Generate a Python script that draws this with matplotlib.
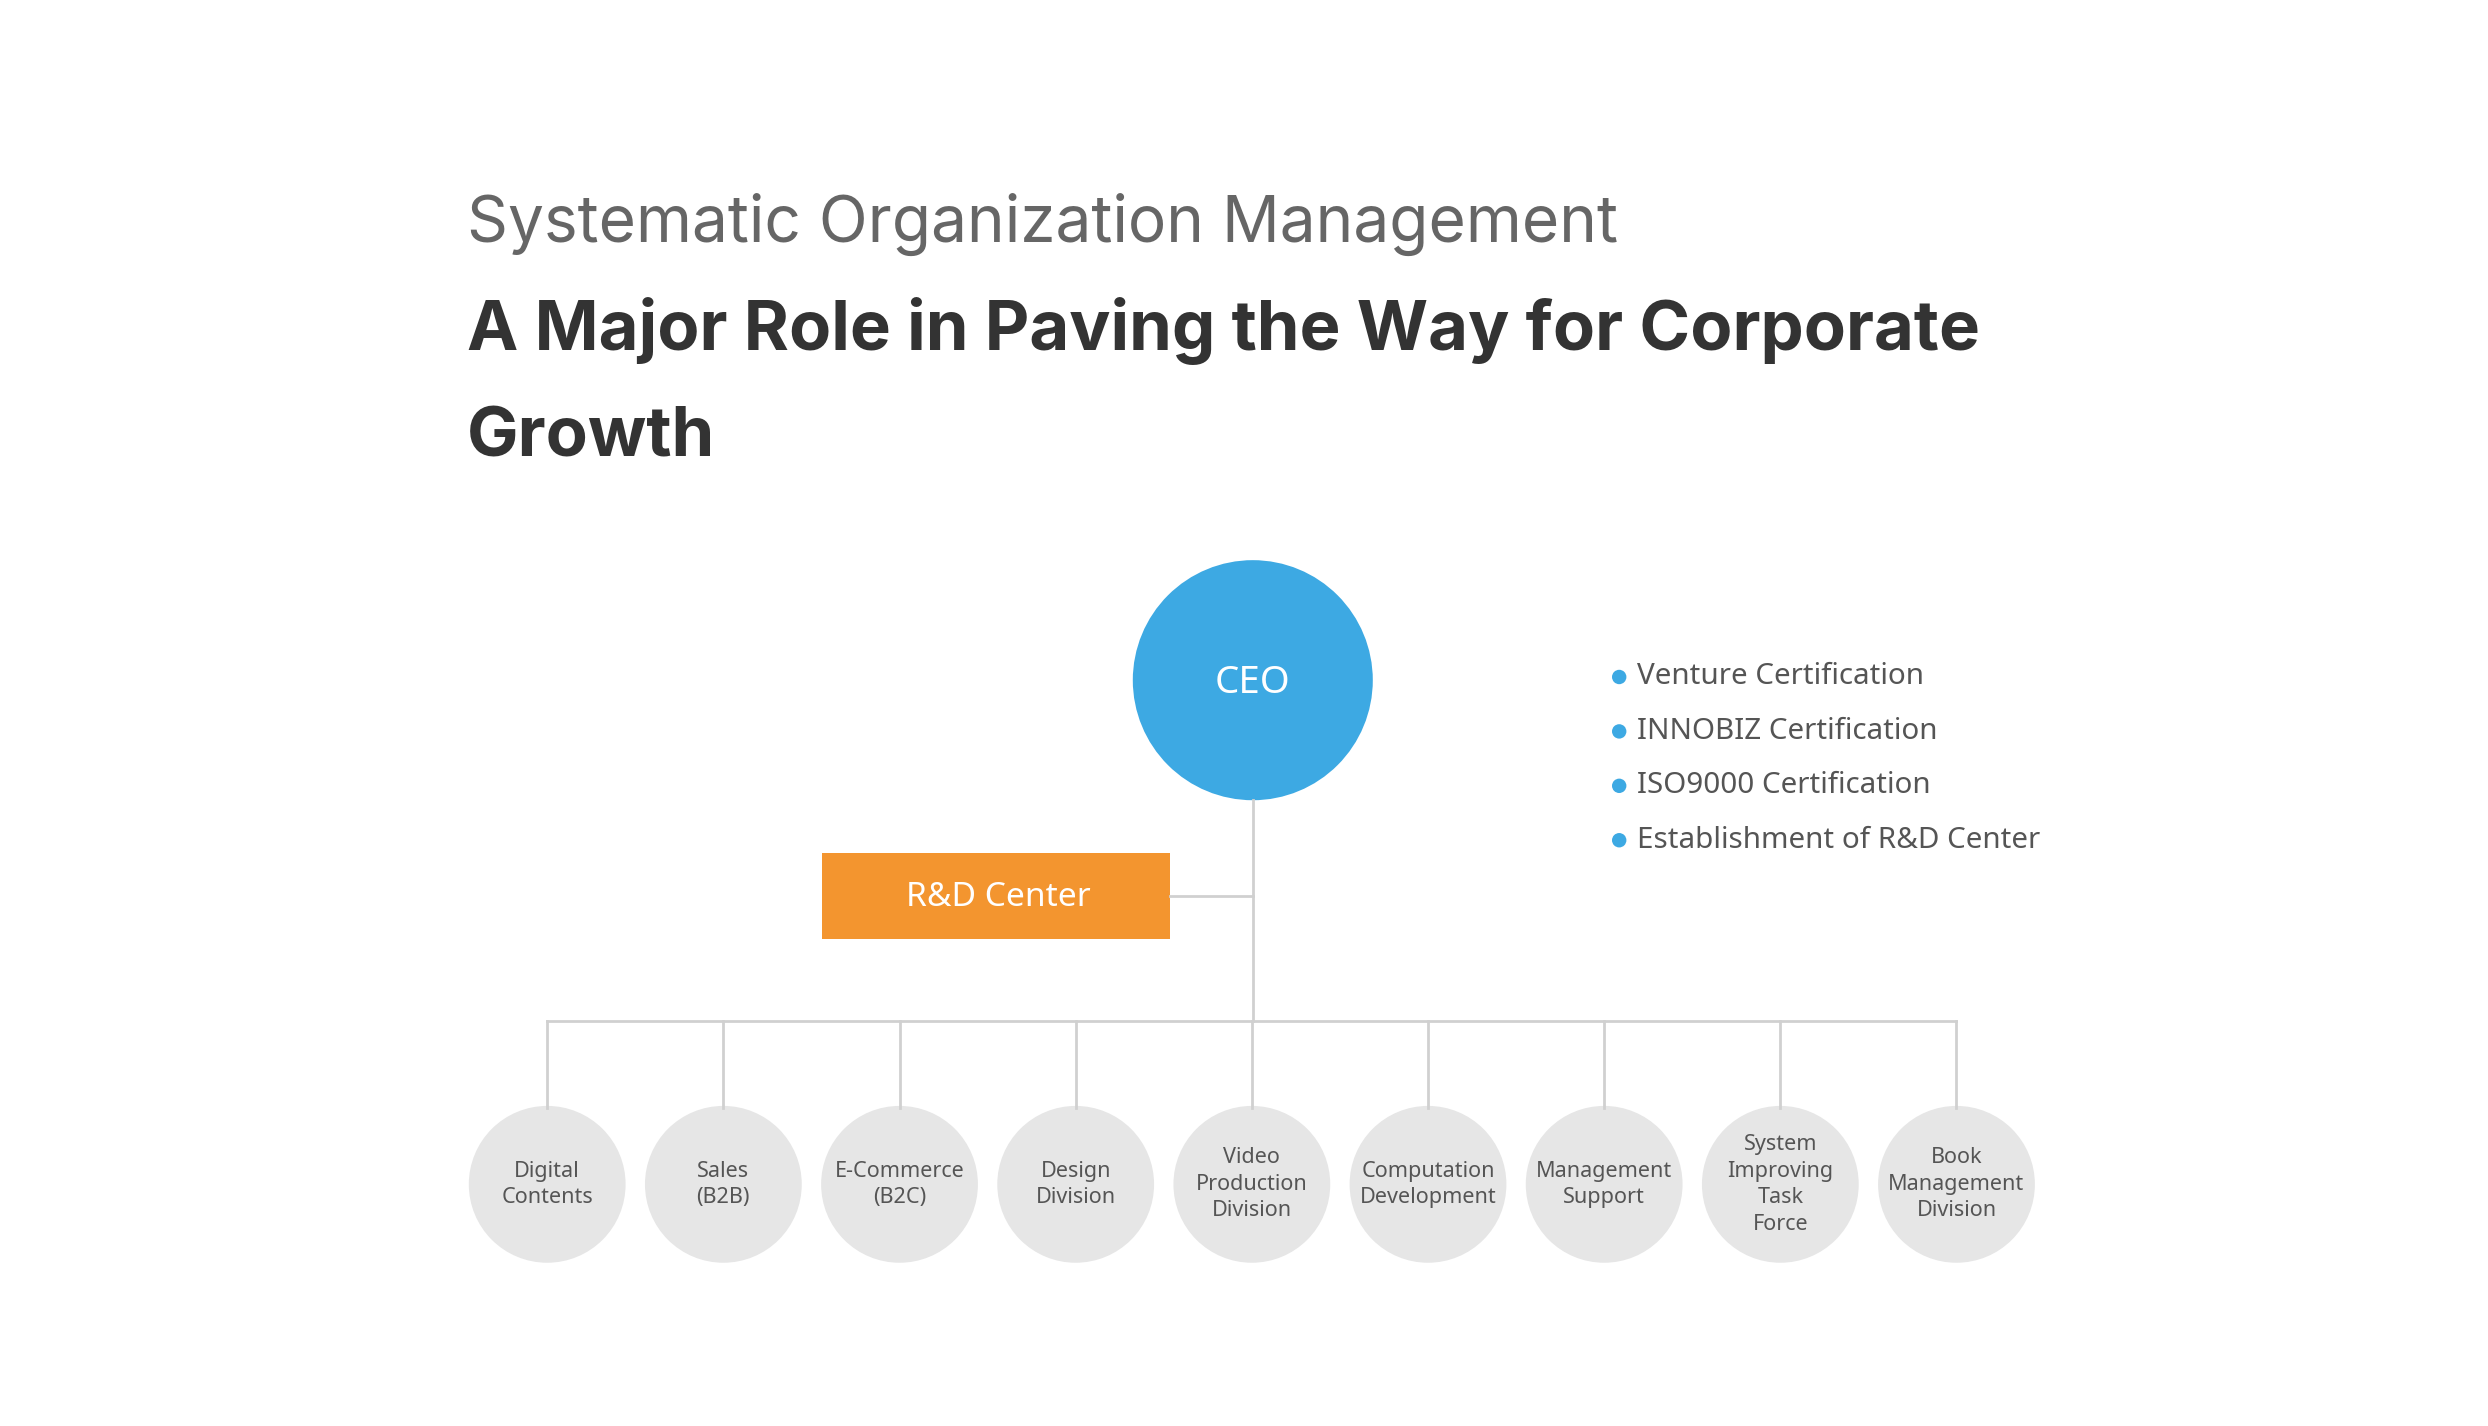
import matplotlib.pyplot as plt
import matplotlib.patches as patches

# layout is drawn in a 1555 x 891 "design" pixel space, scaled up to 2488 x 1426
W, H = 1555, 891
S = 2488 / W

def fs(px):
    return px * S * 0.72

departments = ["Digital\nContents", "Sales\n(B2B)", "E-Commerce\n(B2C)", "Design\nDivision",
               "Video\nProduction\nDivision", "Computation\nDevelopment", "Management\nSupport",
               "System\nImproving\nTask\nForce", "Book\nManagement\nDivision"]
certifications = ["Venture Certification", "INNOBIZ Certification", "ISO9000 Certification",
                  "Establishment of R&D Center"]

plt.rcParams['font.family'] = ['Noto Sans', 'DejaVu Sans']
fig = plt.figure(figsize=(24.88, 14.26), dpi=100)
ax = fig.add_axes([0, 0, 1, 1])
ax.set_xlim(0, W)
ax.set_ylim(H, 0)
ax.axis('off')

ax.text(292, 140, "Systematic Organization Management", fontsize=fs(40), color='#666666',
        va='center', family=['Inter', 'DejaVu Sans'])
ax.text(292, 207, "A Major Role in Paving the Way for Corporate", fontsize=fs(43), color='#333333',
        va='center', fontweight='bold', family=['Inter', 'DejaVu Sans'])
ax.text(292, 274, "Growth", fontsize=fs(43), color='#333333', va='center', fontweight='bold',
        family=['Inter', 'DejaVu Sans'])

line = '#d0d0d0'
xs = [342 + i * 110.1 for i in range(len(departments))]
ax.plot([783, 783], [500, 638], color=line, lw=2)
ax.plot([731, 783], [560, 560], color=line, lw=2)
ax.plot([xs[0], xs[-1]], [638, 638], color=line, lw=2)
for x in xs:
    ax.plot([x, x], [638, 692], color=line, lw=2)

ax.add_patch(patches.Circle((783, 425), 75, fc='#3DA9E3', ec='none'))
ax.text(783, 427, "CEO", fontsize=fs(24), color='white', ha='center', va='center')

ax.add_patch(patches.Rectangle((514, 533), 217, 54, fc='#F3952F', ec='none'))
ax.text(624, 561, "R&D Center", fontsize=fs(21), color='white', ha='center', va='center')

for x, name in zip(xs, departments):
    ax.add_patch(patches.Circle((x, 740), 49, fc='#e6e6e6', ec='none'))
    ax.text(x, 740, name, fontsize=fs(13.5), color='#555555', ha='center', va='center',
            linespacing=1.35)

for i, c in enumerate(certifications):
    y = 423 + i * 34
    ax.add_patch(patches.Circle((1012, y), 4.5, fc='#3DA9E3', ec='none'))
    ax.text(1023, y, c, fontsize=fs(18.5), color='#555555', va='center')

fig.savefig('out.png')
